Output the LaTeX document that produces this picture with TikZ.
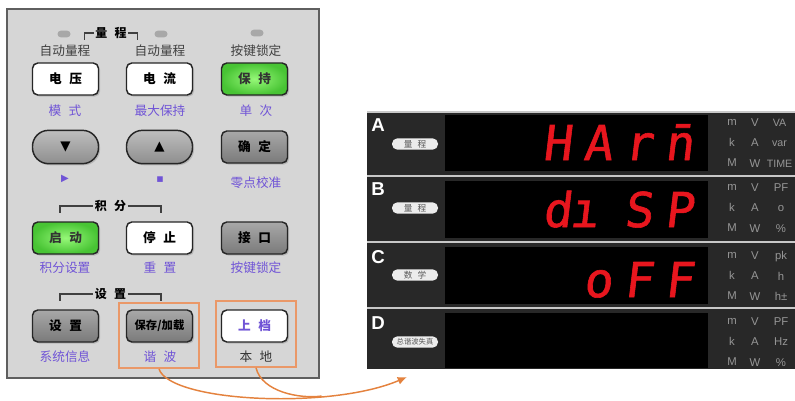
\documentclass[tikz,border=0pt]{standalone}
\usepackage{fontspec}
\setmainfont{Liberation Sans}
\newfontfamily\cjk{Noto Sans CJK SC}[WordSpace=2.6]
\newfontfamily\symf{DejaVu Sans}
\newfontfamily\segf{DejaVu Sans Mono}[FakeSlant=0.12,FakeBold=1.2]
\usetikzlibrary{arrows.meta,shadows}

\definecolor{panelgray}{RGB}{214,214,214}
\definecolor{panelline}{RGB}{95,95,95}
\definecolor{keygreenin}{RGB}{150,248,120}
\definecolor{keygreenout}{RGB}{72,196,52}
\definecolor{keygraytop}{RGB}{168,168,168}
\definecolor{keygraybot}{RGB}{122,122,122}
\definecolor{pilltop}{RGB}{190,190,190}
\definecolor{pillbot}{RGB}{142,142,142}
\definecolor{ledgray}{RGB}{168,168,168}
\definecolor{labelpurple}{RGB}{112,84,214}
\definecolor{hlorange}{RGB}{234,152,104}
\definecolor{curveorange}{RGB}{228,130,62}
\definecolor{meterbg}{RGB}{40,40,40}
\definecolor{sepgray}{RGB}{200,200,200}
\definecolor{segred}{RGB}{232,22,30}
\definecolor{unitgray}{RGB}{150,150,150}
\definecolor{tagwhite}{RGB}{236,236,236}

\newcommand\segcell[1]{\makebox[30.5pt]{#1}}

\tikzset{every picture/.style={line width=0.75pt},
  keybtn/.style={draw=black!85,line width=1.1pt,rounded corners=4pt,minimum width=49.5pt,minimum height=24pt,inner sep=0pt,
    font=\cjk\bfseries\fontsize{9.5}{10}\selectfont,drop shadow={shadow xshift=1.2pt,shadow yshift=-1.2pt,opacity=.35}},
  whitekey/.style={keybtn,fill=white},
  greenkey/.style={keybtn,inner color=keygreenin,outer color=keygreenout,text=black!80},
  graykey/.style={keybtn,top color=keygraytop,bottom color=keygraybot},
  arrowkey/.style={keybtn,rounded corners=12pt,minimum height=25pt,top color=pilltop,bottom color=pillbot,font=\symf\fontsize{10}{10}\selectfont},
  led/.style={fill=ledgray,rounded corners=2.5pt,minimum width=9.75pt,minimum height=5pt,inner sep=0pt},
  toplabel/.style={font=\cjk\fontsize{9.5}{10}\selectfont,text=black!75,inner sep=1pt},
  funclabel/.style={font=\cjk\fontsize{9.5}{10}\selectfont,text=labelpurple,inner sep=1pt},
  groupline/.style={line width=1.1pt,draw=black!75},
  grouplabel/.style={font=\cjk\bfseries\fontsize{9}{10}\selectfont,inner sep=1pt},
  hlbox/.style={draw=hlorange,line width=1.3pt,minimum width=60pt,minimum height=49pt},
  hlcurve/.style={draw=curveorange,line width=1.1pt},
  chlabel/.style={font=\bfseries\fontsize{14}{14}\selectfont,text=white},
  rangetag/.style={fill=tagwhite,rounded corners=4pt,minimum width=34.5pt,minimum height=8.5pt,inner sep=0pt,font=\cjk\fontsize{6.5}{7}\selectfont,text=black!65},
  segtext/.style={font=\segf\fontsize{36}{36}\selectfont,text=segred,inner sep=0pt},
  unit/.style={font=\fontsize{8.5}{15.4}\selectfont,text=unitgray,align=center,inner sep=0pt}
}

\begin{document}
\begin{tikzpicture}[x=0.75pt,y=0.75pt,yscale=-1,xscale=1]
\useasboundingbox (0,0) rectangle (795,400);

%Shape: Rectangle
\draw [draw=panelline,fill=panelgray,line width=1.5pt] (7,9) rectangle (319,378) ;

% Text Node
\draw (64,34) node (ledA) [led] {};
\draw (161,34) node (ledB) [led] {};
\draw (257,33) node (ledC) [led] {};
\draw (111,33) node (rangegrp) [grouplabel] {量 程};
\draw [groupline] (rangegrp.west) -- ++(-9,0) -- ++(0,7) ;
\draw [groupline] (rangegrp.east) -- ++(9,0) -- ++(0,7) ;
\draw (65,51) node (autoA) [toplabel] {自动量程};
\draw (160,51) node (autoB) [toplabel] {自动量程};
\draw (256,51) node (lockA) [toplabel] {按键锁定};

% Key row 1
\draw (65.5,79) node (volt) [whitekey] {电 压};
\draw (159.5,79) node (curr) [whitekey] {电 流};
\draw (254.5,79) node (hold) [greenkey] {保 持};
\draw (65,111) node (mode) [funclabel] {模 式};
\draw (160,111) node (maxhold) [funclabel] {最大保持};
\draw (256,111) node (single) [funclabel] {单 次};

% Key row 2
\draw (65.5,147) node (down) [arrowkey] {▼};
\draw (159.5,147) node (up) [arrowkey] {▲};
\draw (254.5,147) node (enter) [graykey] {确 定};
\draw (65,179) node (right) [funclabel,font=\symf\fontsize{7.5}{8}\selectfont] {▶};
\draw (160,180) node (square) [funclabel,font=\symf\fontsize{5.5}{6}\selectfont] {■};
\draw (256,183) node (zero) [funclabel] {零点校准};

% Key row 3
\draw (110.5,206) node (integgrp) [grouplabel] {积 分};
\draw [groupline] (integgrp.west) -- ++(-33,0) -- ++(0,7) ;
\draw [groupline] (integgrp.east) -- ++(33,0) -- ++(0,7) ;
\draw (65.5,238) node (start) [greenkey] {启 动};
\draw (159.5,238) node (stop) [whitekey] {停 止};
\draw (254.5,238) node (iface) [graykey] {接 口};
\draw (65,268) node (integset) [funclabel] {积分设置};
\draw (160,268) node (reset) [funclabel] {重 置};
\draw (256,268) node (lockB) [funclabel] {按键锁定};

% Key row 4
\draw (110.5,294) node (setgrp) [grouplabel] {设 置};
\draw [groupline] (setgrp.west) -- ++(-33,0) -- ++(0,7) ;
\draw [groupline] (setgrp.east) -- ++(33,0) -- ++(0,7) ;
\draw (65.5,326) node (setup) [graykey] {设 置};
\draw (159.5,326) node (save) [graykey,font=\cjk\bfseries\fontsize{8.5}{9}\selectfont] {保存/加载};
\draw (254.5,326) node (shift) [whitekey,text=labelpurple] {上 档};
\draw (65,357) node (sysinfo) [funclabel] {系统信息};
\draw (160,357) node (harm) [funclabel] {谐 波};
\draw (256,357) node (local) [toplabel,text=black!80] {本 地};

% Highlight boxes
\draw (159,335.5) node (hbox) [hlbox] {};
\draw (256,334) node (lbox) [hlbox,minimum height=49.5pt] {};

%Curve Lines
\coordinate (tip) at (407,377);
\draw [hlcurve,-{Latex[length=7pt,width=6pt]}] (hbox.south) .. controls (170,402) and (330,410) .. (tip) coordinate[pos=0.7] (merge) ;
\draw [hlcurve] (lbox.south) .. controls (262,392) and (300,399) .. (merge) ;

%Shape: Meter panel
\fill [meterbg] (367,112) rectangle (800,369) ;
\draw [draw=sepgray,line width=1pt] (367,112) -- (800,112) ;
\draw [draw=sepgray,line width=2.2pt] (367,176) -- (800,176) ;
\draw [draw=sepgray,line width=2.2pt] (367,242) -- (800,242) ;
\draw [draw=sepgray,line width=2.2pt] (367,308) -- (800,308) ;
\fill [black] (445,115) rectangle (708,171) ;
\fill [black] (445,181) rectangle (708,238) ;
\fill [black] (445,247) rectangle (708,304) ;
\fill [black] (445,313) rectangle (708,368) ;

% Text Node
\draw (378,125) node (chA) [chlabel] {A};
\draw (378,189) node (chB) [chlabel] {B};
\draw (378,257) node (chC) [chlabel] {C};
\draw (378,323) node (chD) [chlabel] {D};
\draw (415,144) node (tagA) [rangetag] {量 程};
\draw (415,208) node (tagB) [rangetag] {量 程};
\draw (415,275) node (tagC) [rangetag] {数 学};
\draw (415,342) node (tagD) [rangetag,font=\cjk\fontsize{5.5}{6}\selectfont] {总谐波失真};

% Readings
\draw (618,160) node (readA) [segtext,anchor=base] {\segcell{H}\segcell{A}\segcell{r}\segcell{n̄}};
\draw (618,227) node (readB) [segtext,anchor=base] {\segcell{d}\makebox[30.5pt][l]{\hspace{-6pt}ı}\segcell{S}\segcell{P}};
\draw (618,297) node (readC) [segtext,anchor=base] {\segcell{}\segcell{o}\segcell{F}\segcell{F}};

% Units
\draw (732,143) node (prefA) [unit] {m\\k\\M};
\draw (755,143) node (baseA) [unit] {V\\A\\W};
\draw (779.5,143) node (extA) [unit,font=\fontsize{8}{15.4}\selectfont] {VA\\var\\TIME};
\draw (732,208) node (prefB) [unit] {m\\k\\M};
\draw (755,208) node (baseB) [unit] {V\\A\\W};
\draw (781,208) node (extB) [unit] {PF\\o\\\%};
\draw (732,276) node (prefC) [unit] {m\\k\\M};
\draw (755,276) node (baseC) [unit] {V\\A\\W};
\draw (781,276) node (extC) [unit] {pk\\h\\h±};
\draw (732,342) node (prefD) [unit] {m\\k\\M};
\draw (755,342) node (baseD) [unit] {V\\A\\W};
\draw (781,342) node (extD) [unit] {PF\\Hz\\\%};

\end{tikzpicture}
\end{document}
